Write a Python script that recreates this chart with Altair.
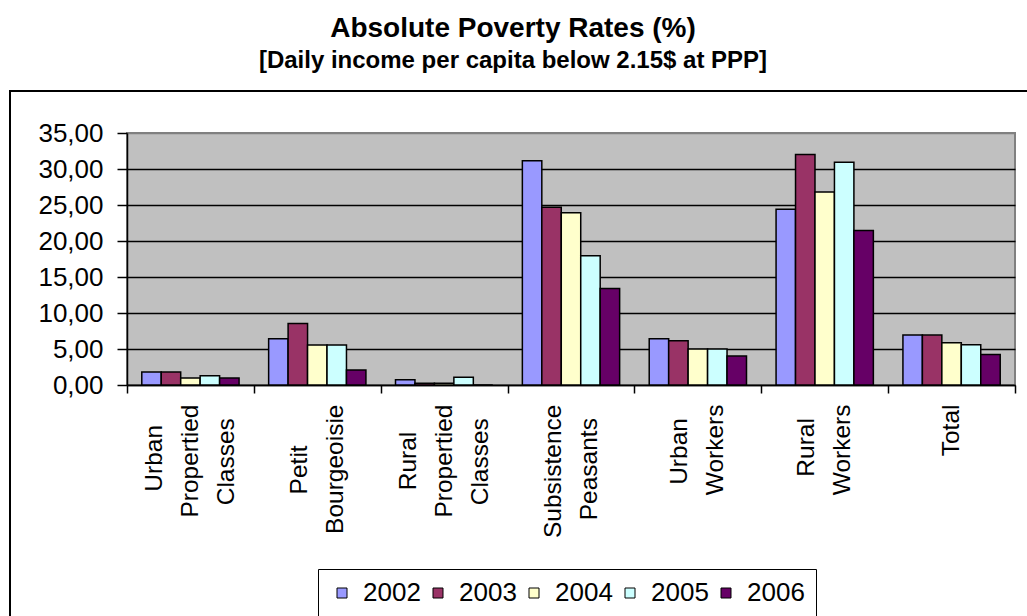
import json

import altair as alt
import pandas as pd

# Absolute poverty rates by social class, 2002-2006
categories = [
    "Urban Propertied Classes",
    "Petit Bourgeoisie",
    "Rural Propertied Classes",
    "Subsistence Peasants",
    "Urban Workers",
    "Rural Workers",
    "Total",
]
years = ["2002", "2003", "2004", "2005", "2006"]
rates_2002 = [1.80, 6.42, 0.74, 31.16, 6.42, 24.42, 6.93]
rates_2003 = [1.80, 8.54, 0.23, 24.70, 6.14, 32.00, 6.93]
rates_2004 = [0.97, 5.54, 0.23, 23.91, 4.99, 26.82, 5.86]
rates_2005 = [1.29, 5.54, 1.06, 17.96, 4.99, 30.93, 5.59]
rates_2006 = [0.97, 2.08, 0.00, 13.39, 4.02, 21.47, 4.25]
year_colors = ["#9999FF", "#993366", "#FFFFCC", "#CCFFFF", "#660066"]

series = [rates_2002, rates_2003, rates_2004, rates_2005, rates_2006]
rows = []
for year, values in zip(years, series):
    for cat, v in zip(categories, values):
        rows.append({"category": cat, "year": year, "rate": v})
df = pd.DataFrame(rows)

FONT = "Liberation Sans"
W, H = 888, 252
LINE_H = 36

# Approximate Arial advance widths (em) used to centre the lines of each
# rotated category label on its longest line (labels are right-aligned).
ADV = {
    "U": .722, "r": .333, "b": .556, "a": .556, "n": .556, "P": .667,
    "o": .556, "p": .556, "e": .556, "t": .278, "i": .222, "d": .556,
    "C": .722, "l": .222, "s": .5, "B": .667, "u": .556, "g": .556,
    "R": .722, "S": .667, "c": .5, "W": .944, "k": .5, "T": .611,
}
NBSP = "\u00a0"
ZWSP = "\u200b"  # keeps the trailing no-break spaces from being trimmed


def text_em(s):
    return sum(ADV.get(ch, 0.556) for ch in s)


def centred_lines(label):
    words = label.split(" ")
    widest = max(text_em(w) for w in words)
    out = []
    for w in words:
        n = round((widest - text_em(w)) / (2 * 0.278))
        out.append(w + NBSP * n + ZWSP if n else w)
    return out


label_lines = {c: centred_lines(c) for c in categories}
label_expr = json.dumps(label_lines, ensure_ascii=False) + "[datum.label]"

bars = alt.Chart(df).mark_bar(stroke="black", strokeWidth=1.5).encode(
    x=alt.X(
        "category:N",
        sort=categories,
        title=None,
        scale=alt.Scale(paddingInner=0, paddingOuter=0),
        axis=alt.Axis(
            labelAngle=-90,
            labelExpr=label_expr,
            labelFont=FONT,
            labelFontSize=24.5,
            labelColor="black",
            labelLineHeight=LINE_H,
            labelPadding=11,
            labelOffset={
                "condition": [
                    {"test": "length(split(datum.value, ' ')) == 3", "value": -LINE_H},
                    {"test": "length(split(datum.value, ' ')) == 2", "value": -LINE_H / 2},
                ],
                "value": 0,
            },
            tickBand="extent",
            tickSize=8,
            tickColor="black",
            tickWidth=1.5,
            domainColor="black",
            domainWidth=1.5,
            grid=False,
        ),
    ),
    xOffset=alt.XOffset(
        "year:N",
        sort=years,
        scale=alt.Scale(paddingInner=0, paddingOuter=0.76),
    ),
    y=alt.Y(
        "rate:Q",
        title=None,
        scale=alt.Scale(domain=[0, 35], nice=False),
        axis=alt.Axis(
            values=[0, 5, 10, 15, 20, 25, 30, 35],
            labelExpr="replace(format(datum.value, '.2f'), '.', ',')",
            labelFont=FONT,
            labelFontSize=26,
            labelColor="black",
            labelPadding=14,
            tickSize=10,
            tickColor="black",
            tickWidth=1.5,
            domainColor="black",
            domainWidth=1.5,
            grid=True,
            gridColor={
                "condition": {"test": "datum.value >= 35", "value": "#808080"},
                "value": "black",
            },
            gridWidth=1.4,
        ),
    ),
    color=alt.Color(
        "year:N",
        sort=years,
        scale=alt.Scale(domain=years, range=year_colors),
        legend=alt.Legend(
            title=None,
            orient="none",
            legendX=191,
            legendY=436,
            direction="horizontal",
            symbolType="square",
            symbolSize=100,
            symbolStrokeColor="black",
            symbolStrokeWidth=1,
            labelFont=FONT,
            labelFontSize=26,
            labelColor="black",
            labelOffset=8,
            columnPadding=4,
            padding=11,
            strokeColor="black",
            fillColor="white",
        ),
    ),
)

# outer chart frame drawn around plot, axes and legend
frame_df = pd.DataFrame({"frame": [0]})
frame = alt.Chart(frame_df).mark_rect(
    fill=None, stroke="black", strokeWidth=2
).encode(
    x=alt.value(-117),
    x2=alt.value(W + 40),
    y=alt.value(-42),
    y2=alt.value(H + 260),
)

chart = (
    alt.layer(frame, bars)
    .properties(
        width=W,
        height=H,
        title=alt.TitleParams(
            text="Absolute Poverty Rates (%)",
            subtitle="[Daily income per capita below 2.15$ at PPP]",
            font=FONT,
            fontSize=28,
            fontWeight="bold",
            color="black",
            subtitleFont=FONT,
            subtitleFontSize=24,
            subtitleFontWeight="bold",
            subtitleColor="black",
            subtitlePadding=6,
            anchor="middle",
            frame="group",
            dx=-58,
            offset=17,
        ),
        autosize=alt.AutoSizeParams(type="none"),
        padding={"left": 127, "top": 133, "right": 12, "bottom": 231},
        background="white",
    )
    .configure_view(fill="#C0C0C0", stroke="#808080", strokeWidth=2)
)

chart.save("out.html", embed_options={"renderer": "svg", "actions": False})
